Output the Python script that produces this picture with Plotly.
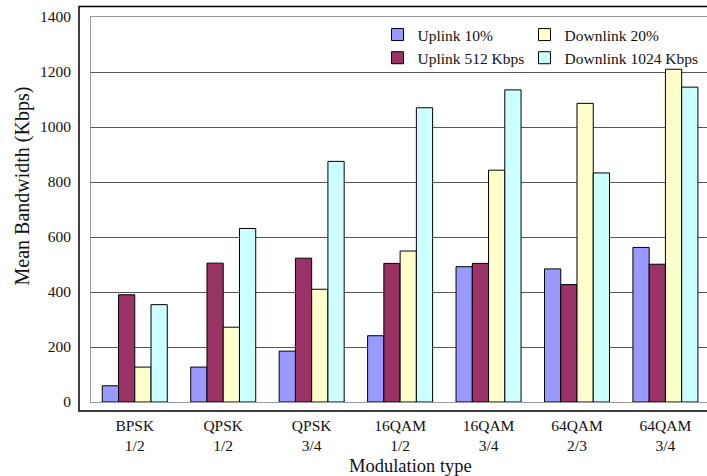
import plotly.graph_objects as go

categories = ["BPSK<br>1/2", "QPSK<br>1/2", "QPSK<br>3/4", "16QAM<br>1/2",
              "16QAM<br>3/4", "64QAM<br>2/3", "64QAM<br>3/4"]
uplink_10 = [59, 127, 185, 241, 492, 484, 562]
uplink_512 = [390, 505, 523, 504, 504, 427, 501]
downlink_20 = [127, 272, 410, 549, 843, 1086, 1210]
downlink_1024 = [354, 631, 875, 1070, 1135, 833, 1145]
y_ticks = [0, 200, 400, 600, 800, 1000, 1200, 1400]

FONT = "Liberation Serif, Times New Roman, serif"
series = [
    ("Uplink 10%", uplink_10, "#9999FF", "legend"),
    ("Uplink 512 Kbps", uplink_512, "#993366", "legend"),
    ("Downlink 20%", downlink_20, "#FFFFCC", "legend2"),
    ("Downlink 1024 Kbps", downlink_1024, "#CCFFFF", "legend2"),
]

fig = go.Figure()
x_idx = list(range(len(categories)))
for name, vals, color, leg in series:
    fig.add_trace(go.Bar(
        x=x_idx, y=vals, name=name, legend=leg,
        marker=dict(color=color, line=dict(color="#000000", width=1)),
    ))

W, H = 707, 476
L, R, T, B = 91, 0, 17, 74
pw, ph = W - L - R, H - T - B

def px_x(p):
    return (p - L) / pw

def px_y(p):
    return (H - B - p) / ph

leg_common = dict(
    orientation="v", xanchor="left", yanchor="top",
    bgcolor="rgba(255,255,255,0)", borderwidth=0,
    font=dict(family=FONT, size=15.5, color="#111111"),
    tracegroupgap=0, traceorder="normal",
)

fig.update_layout(
    width=W, height=H,
    margin=dict(l=L, r=R, t=T, b=B, pad=0),
    paper_bgcolor="white", plot_bgcolor="white",
    barmode="group", bargap=0.265, bargroupgap=0,
    font=dict(family=FONT, size=15.5, color="#111111"),
    showlegend=True,
    legend=dict(x=px_x(377.5), y=px_y(18), **leg_common),
    legend2=dict(x=px_x(524.5), y=px_y(18), **leg_common),
    xaxis=dict(
        range=[-0.495, 6.47], tickmode="array", tickvals=x_idx, ticktext=categories,
        showgrid=False, zeroline=False,
        showline=True, linecolor="#999999", linewidth=1, mirror=True,
        ticks="outside", ticklen=9, tickcolor="rgba(0,0,0,0)",
        tickfont=dict(family=FONT, size=15.5, color="#111111"),
    ),
    yaxis=dict(
        range=[0, 1400], tickmode="array", tickvals=y_ticks,
        showgrid=True, gridcolor="#555555", gridwidth=1,
        zeroline=False, showline=True, linecolor="#999999", linewidth=1, mirror=False,
        ticks="outside", ticklen=16, tickcolor="rgba(0,0,0,0)",
        tickfont=dict(family=FONT, size=15.5, color="#111111"),
    ),
    shapes=[dict(
        type="rect", xref="paper", yref="paper",
        x0=px_x(79), x1=px_x(720), y0=px_y(411), y1=px_y(6.5),
        line=dict(color="#000000", width=1.5), fillcolor="rgba(0,0,0,0)", layer="above",
    )],
    annotations=[
        dict(text="Modulation type", xref="paper", yref="paper",
             x=px_x(411), y=px_y(466), xanchor="center", yanchor="middle",
             showarrow=False, font=dict(family=FONT, size=18.5, color="#111111")),
        dict(text="Mean Bandwidth (Kbps)", xref="paper", yref="paper",
             x=px_x(22), y=px_y(186.5), xanchor="center", yanchor="middle",
             textangle=-90, showarrow=False,
             font=dict(family=FONT, size=20, color="#111111")),
    ],
)

fig.write_html("out.html", config={"displayModeBar": False},
               post_script="document.body.style.margin='0px';")
